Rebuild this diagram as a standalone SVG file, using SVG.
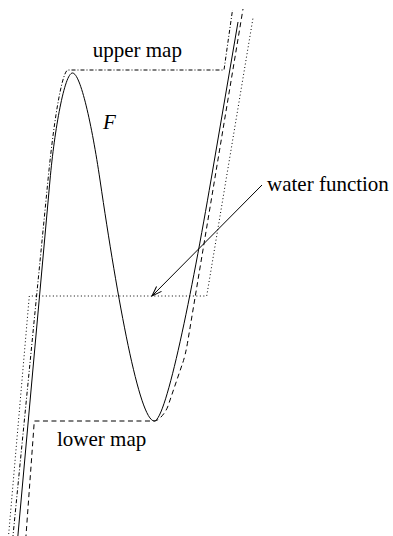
<svg xmlns="http://www.w3.org/2000/svg" width="393" height="536" viewBox="0 0 393 536">
<style>
.ln{fill:none;stroke:#000;stroke-width:1}
.dash{stroke-dasharray:5,3.5}
.dot{stroke-dasharray:1,2.5}
.dashdot{stroke-dasharray:4,2,1,2}
text{font-family:"Liberation Serif","Times New Roman",serif;font-size:21px;fill:#000}
</style>
<defs>
<marker id="arr" markerUnits="userSpaceOnUse" markerWidth="14" markerHeight="10" viewBox="-12 -5 14 10" refX="0" refY="0" orient="auto">
<path d="M -10,-3.5 L 0,0 L -10,3.5" fill="none" stroke="#000" stroke-width="1"/>
</marker>
</defs>
<rect width="393" height="536" fill="#fff"/>
<g id="F-curve">
<path class="ln" d="M 16.8,548 L 50,180 C 54.5,130 64.5,73 72.5,73 C 80.5,73 91.9,125 100,180 C 117.6,300 139.3,421 154.3,421 C 166.3,421 192.2,290 211,180 L 238,22"/>
</g>
<g id="upper-map">
<path class="ln dashdot" d="M 11.8,548 L 48,180 C 54.9,110 63,70 68,70 L 224,70 L 232.5,10"/>
</g>
<g id="lower-map">
<path class="ln dash" d="M 25.1,548 L 34.3,421 L 154.3,421 C 159,421 166,412 168,406 L 182,365 Q 185.4,355.9 188,340 L 243,9"/>
</g>
<g id="water-function">
<path class="ln dot" d="M 7.5,548 L 29.3,296 L 206.7,296 L 253,18"/>
</g>
<g id="labels">
<text x="92.7" y="56.5">upper map</text>
<text x="103" y="128.5" font-style="italic">F</text>
<text x="267" y="190.5">water function</text>
<text x="57" y="446">lower map</text>
</g>
<g id="connectors">
<line class="ln" x1="262" y1="185" x2="152" y2="296" marker-end="url(#arr)"/>
</g>
</svg>
